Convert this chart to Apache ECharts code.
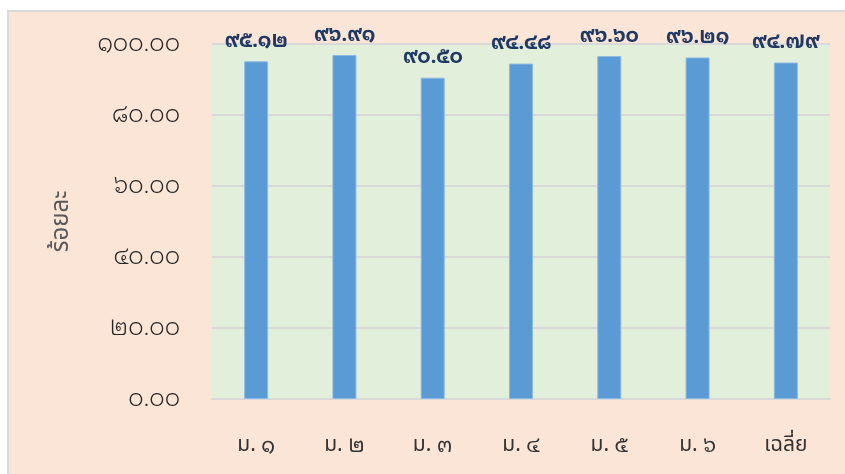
<!DOCTYPE html>
<html>
<head>
<meta charset="utf-8">
<script src="https://cdn.jsdelivr.net/npm/echarts@6/dist/echarts.min.js"></script>
<style>
html,body{margin:0;padding:0;background:#ffffff;width:845px;height:474px;overflow:hidden;}
#frame{position:absolute;left:7px;top:10px;width:838px;height:464px;border-left:2px solid #D9D9D9;border-top:2px solid #D9D9D9;background:#FBE5D6;}
#chart{position:absolute;left:0;top:0;width:838px;height:464px;}
</style>
</head>
<body>
<div id="frame"><div id="chart"></div></div>
<script>
const categories = ['ม. ๑', 'ม. ๒', 'ม. ๓', 'ม. ๔', 'ม. ๕', 'ม. ๖', 'เฉลี่ย'];
const values = [95.12, 96.91, 90.50, 94.48, 96.60, 96.21, 94.79];
const yTickValues = [0, 20, 40, 60, 80, 100];
const yTickLabels = ['๐.๐๐', '๒๐.๐๐', '๔๐.๐๐', '๖๐.๐๐', '๘๐.๐๐', '๑๐๐.๐๐'];
const yAxisName = 'ร้อยละ';

const thaiDigits = ['๐','๑','๒','๓','๔','๕','๖','๗','๘','๙'];
function toThai(s){ return String(s).replace(/[0-9]/g, d => thaiDigits[+d]); }

const LOOP = '"Noto Sans Thai Looped", sans-serif';
const PLAIN = '"Noto Sans Thai", sans-serif';
const chart = echarts.init(document.getElementById('chart'));
chart.setOption({
  backgroundColor: 'transparent',
  animation: false,
  grid: { left: 203, right: 17, top: 32, bottom: 77, show: true, backgroundColor: '#E2EFDA', borderWidth: 0 },
  xAxis: {
    type: 'category',
    data: categories,
    axisLine: { show: true, lineStyle: { color: '#D9D9D9', width: 2 } },
    axisTick: { show: false },
    axisLabel: {
      interval: 0,
      color: '#333333', fontSize: 21, fontFamily: PLAIN, margin: 37,
      formatter: v => {
        const parts = v.split(' ');
        return parts.length > 1 ? '{a|' + parts[0] + ' }{b|' + parts[1] + '}' : '{a|' + v + '}';
      },
      rich: {
        a: { color: '#333333', fontSize: 21, fontFamily: PLAIN, fontWeight: 400 },
        b: { color: '#333333', fontSize: 21, fontFamily: LOOP, fontWeight: 400 }
      }
    }
  },
  yAxis: {
    type: 'value',
    min: 0, max: 100, interval: 20,
    name: yAxisName,
    nameLocation: 'middle',
    nameGap: 137,
    nameRotate: 90,
    nameTextStyle: { color: '#595959', fontSize: 24, fontFamily: PLAIN },
    axisLine: { show: false },
    axisTick: { show: false },
    splitLine: { lineStyle: { color: '#D9D9D9', width: 2 } },
    axisLabel: {
      color: '#262626', fontSize: 24, fontFamily: LOOP, fontWeight: 300, margin: 32,
      formatter: v => { const i = yTickValues.indexOf(v); return i >= 0 ? yTickLabels[i] : toThai(v.toFixed(2)); }
    }
  },
  series: [{
    type: 'bar',
    data: values,
    barWidth: 24,
    itemStyle: { color: '#5B9BD5', borderColor: '#8DB8E2', borderWidth: 1 },
    label: {
      show: true, position: 'top', distance: 10,
      color: '#1F3864', fontSize: 20, fontWeight: 'bold', fontFamily: LOOP,
      formatter: p => toThai(p.value.toFixed(2))
    }
  }]
});
</script>
</body>
</html>
